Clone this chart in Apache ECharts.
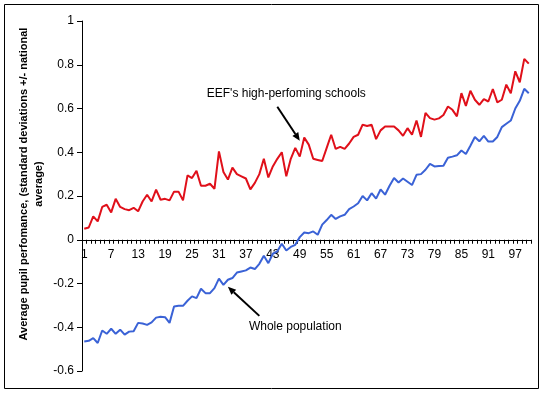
<!DOCTYPE html>
<html>
<head>
<meta charset="utf-8">
<script src="https://cdn.jsdelivr.net/npm/echarts@6/dist/echarts.min.js"></script>
<style>
html,body{margin:0;padding:0;background:#fff;}
#c{width:543px;height:393px;}
</style>
</head>
<body>
<div id="c"></div>
<script>
var categories = [];
for (var k = 1; k <= 100; k++) categories.push(String(k));

var eefSchools = [
0.05,0.056,0.107,0.084,0.15,0.16,0.125,0.187,0.15,0.14,
0.135,0.146,0.13,0.175,0.206,0.175,0.229,0.183,0.187,0.18,
0.22,0.22,0.18,0.294,0.282,0.315,0.247,0.247,0.256,0.233,
0.404,0.31,0.275,0.33,0.30,0.29,0.28,0.23,0.26,0.30,
0.37,0.285,0.335,0.37,0.40,0.29,0.37,0.42,0.38,0.467,
0.435,0.37,0.365,0.36,0.42,0.48,0.415,0.425,0.415,0.44,
0.47,0.48,0.526,0.52,0.526,0.46,0.50,0.518,0.518,0.518,
0.50,0.475,0.51,0.48,0.545,0.47,0.58,0.556,0.549,0.555,
0.57,0.609,0.594,0.564,0.67,0.612,0.681,0.64,0.617,0.643,
0.632,0.689,0.628,0.64,0.709,0.67,0.77,0.72,0.827,0.805
];

var wholePopulation = [
-0.465,-0.462,-0.45,-0.472,-0.415,-0.43,-0.407,-0.43,-0.411,-0.434,
-0.42,-0.418,-0.38,-0.383,-0.389,-0.378,-0.356,-0.352,-0.354,-0.38,
-0.305,-0.302,-0.302,-0.279,-0.259,-0.267,-0.224,-0.244,-0.244,-0.221,
-0.178,-0.206,-0.183,-0.175,-0.15,-0.145,-0.14,-0.127,-0.134,-0.11,
-0.073,-0.107,-0.064,-0.053,-0.018,-0.049,-0.033,-0.023,0.012,0.033,
0.03,0.038,0.023,0.069,0.09,0.114,0.095,0.107,0.114,0.14,
0.152,0.167,0.20,0.18,0.213,0.188,0.23,0.206,0.247,0.282,
0.262,0.28,0.265,0.25,0.297,0.30,0.32,0.347,0.335,0.337,
0.338,0.375,0.38,0.386,0.408,0.392,0.43,0.47,0.45,0.475,
0.449,0.449,0.47,0.515,0.53,0.545,0.60,0.635,0.69,0.67
];

var yMin = -0.6, yMax = 1, yStep = 0.2;
var yTitle = 'Average pupil perfomance, (standard deviations +/- national\naverage)';
var label1 = "EEF's high-perfoming schools";
var label2 = 'Whole population';

var chart = echarts.init(document.getElementById('c'), null, {renderer: 'canvas'});
var FONT = 'Arial, "Liberation Sans", sans-serif';
var gridTop = 21, gridBottom = 22, H = 393;
var plotH = H - gridTop - gridBottom;
// move the category axis (line, ticks and labels) up to the zero line
var zeroOffset = -plotH * (0 - yMin) / (yMax - yMin);

var option = {
  animation: false,
  backgroundColor: '#fff',
  grid: {left: 82, right: 12, top: gridTop, bottom: gridBottom, containLabel: false},
  xAxis: {
    type: 'category',
    data: categories,
    boundaryGap: true,
    offset: zeroOffset,
    axisLine: {onZero: false, lineStyle: {color: '#000', width: 1}},
    axisTick: {show: true, interval: 0, length: 4, lineStyle: {color: '#000'}},
    axisLabel: {interval: 5, color: '#000', fontSize: 12, fontFamily: FONT, margin: 9},
    splitLine: {show: false}
  },
  yAxis: {
    type: 'value',
    min: yMin, max: yMax, interval: yStep,
    axisLine: {show: true, lineStyle: {color: '#000', width: 1}},
    axisTick: {show: true, length: 5, lineStyle: {color: '#000'}},
    axisLabel: {color: '#000', fontSize: 12, fontFamily: FONT, margin: 8,
      formatter: function (v) { return String(parseFloat(v.toFixed(1))); }},
    splitLine: {show: false}
  },
  series: [
    {
      name: label1, type: 'line', data: eefSchools, symbol: 'none',
      lineStyle: {color: '#e0101a', width: 2}, itemStyle: {color: '#e0101a'}, z: 3
    },
    {
      name: label2, type: 'line', data: wholePopulation, symbol: 'none',
      lineStyle: {color: '#3a62d6', width: 2}, itemStyle: {color: '#3a62d6'}, z: 3
    }
  ]
};
chart.setOption(option);

function px(idx, v) { return chart.convertToPixel({gridIndex: 0}, [idx, v]); }

function arrow(from, to) {
  var a = px(from[0], from[1]), b = px(to[0], to[1]);
  var ang = Math.atan2(b[1] - a[1], b[0] - a[0]);
  var L = 8, W = 3.5;
  var bx = b[0] - L * Math.cos(ang), by = b[1] - L * Math.sin(ang);
  var nx = -Math.sin(ang) * W, ny = Math.cos(ang) * W;
  return [
    {type: 'line', shape: {x1: a[0], y1: a[1], x2: bx, y2: by}, style: {stroke: '#000', lineWidth: 2}, z: 10},
    {type: 'polygon', shape: {points: [[b[0], b[1]], [bx + nx, by + ny], [bx - nx, by - ny]]}, style: {fill: '#000'}, z: 10}
  ];
}

var t1 = px(45.4, 0.667), t2 = px(46.9, -0.398);
var g = [
  {type: 'rect', shape: {x: 4.5, y: 4.5, width: 534, height: 384}, style: {fill: 'none', stroke: '#000', lineWidth: 1}, z: 0, silent: true},
  {type: 'text', x: 31, y: 184, rotation: Math.PI / 2,
    style: {text: yTitle, font: 'bold 11px ' + FONT, fill: '#000', align: 'center', verticalAlign: 'middle', lineHeight: 15}, z: 10},
  {type: 'text', x: t1[0], y: t1[1], style: {text: label1, font: '12px ' + FONT, fill: '#000', align: 'center', verticalAlign: 'middle'}, z: 10},
  {type: 'text', x: t2[0], y: t2[1], style: {text: label2, font: '12px ' + FONT, fill: '#000', align: 'center', verticalAlign: 'middle'}, z: 10}
];
g = g.concat(arrow([42.5, 0.608], [48.05, 0.453]));
g = g.concat(arrow([38.7, -0.348], [32.2, -0.215]));
chart.setOption({graphic: g});
</script>
</body>
</html>
